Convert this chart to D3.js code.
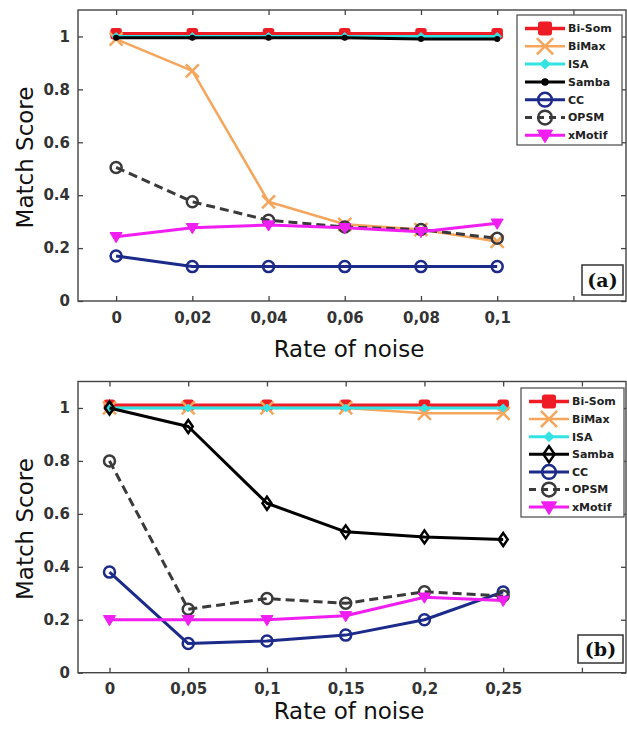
<!DOCTYPE html>
<html>
<head>
<meta charset="utf-8">
<script src="https://cdn.jsdelivr.net/npm/d3@7"></script>
<style>
  body { margin: 0; background: #fff; }
  svg { display: block; }
</style>
</head>
<body>
<div id="chart"></div>
<script>
// ---- data ----
var seriesNames = ["Bi-Som", "BiMax", "ISA", "Samba", "CC", "OPSM", "xMotif"];

var noiseA = [0, 0.02, 0.04, 0.06, 0.08, 0.1];
var noiseTicksA = [0, 0.02, 0.04, 0.06, 0.08, 0.1, 0.12];
var noiseLabelsA = ["0", "0,02", "0,04", "0,06", "0,08", "0,1"];
var biSomA  = [1.01, 1.01, 1.01, 1.01, 1.01, 1.01];
var biMaxA  = [0.99, 0.87, 0.375, 0.29, 0.27, 0.225];
var isaA    = [1.0, 1.0, 1.0, 1.0, 1.0, 1.0];
var sambaA  = [0.995, 0.995, 0.995, 0.995, 0.99, 0.99];
var ccA     = [0.17, 0.13, 0.13, 0.13, 0.13, 0.13];
var opsmA   = [0.505, 0.375, 0.305, 0.28, 0.27, 0.237];
var xMotifA = [0.243, 0.277, 0.287, 0.277, 0.262, 0.294];

var noiseB = [0, 0.05, 0.1, 0.15, 0.2, 0.25];
var noiseTicksB = [0, 0.05, 0.1, 0.15, 0.2, 0.25, 0.3];
var noiseLabelsB = ["0", "0,05", "0,1", "0,15", "0,2", "0,25"];
var biSomB  = [1.01, 1.01, 1.01, 1.01, 1.01, 1.01];
var biMaxB  = [1.0, 1.0, 1.0, 1.0, 0.98, 0.98];
var isaB    = [1.0, 1.0, 1.0, 1.0, 1.0, 1.0];
var sambaB  = [1.0, 0.93, 0.64, 0.532, 0.513, 0.503];
var ccB     = [0.38, 0.11, 0.12, 0.142, 0.2, 0.305];
var opsmB   = [0.8, 0.24, 0.28, 0.262, 0.306, 0.29];
var xMotifB = [0.2, 0.2, 0.2, 0.215, 0.285, 0.273];

var scoreTicks = [0, 0.2, 0.4, 0.6, 0.8, 1];
var scoreLabels = ["0", "0.2", "0.4", "0.6", "0.8", "1"];

// ---- styles ----
var styles = {
    "Bi-Som": {color: "#ee1c24", width: 3.5, marker: "square"},
    "BiMax":  {color: "#f5a55c", width: 2.5, marker: "x"},
    "ISA":    {color: "#33e3e3", width: 3, marker: "diamondFill"},
    "Samba":  {color: "#000000", width: 3, marker: "dot"},
    "CC":     {color: "#1c2a8a", width: 3, marker: "circle"},
    "OPSM":   {color: "#3a3a3a", width: 3, marker: "circle", dash: "9,5"},
    "xMotif": {color: "#f01ef0", width: 3, marker: "triDown"}
};

var svg = d3.select('#chart').append('svg')
    .attr('width', 627)
    .attr('height', 730);

function drawMarker(g, type, color, x, y, big) {
    var k = big ? 1.25 : 1;
    if (type == "square") {
        var s = 5 * k;
        g.append('rect').attr('x', x - s).attr('y', y - s)
            .attr('width', 2 * s).attr('height', 2 * s)
            .attr('rx', 2)
            .attr('fill', color).attr('stroke', color).attr('stroke-width', 1.5);
    } else if (type == "x") {
        var s = 6.5 * k;
        g.append('path')
            .attr('d', 'M' + (x - s) + ',' + (y - s) + 'L' + (x + s) + ',' + (y + s) +
                       'M' + (x - s) + ',' + (y + s) + 'L' + (x + s) + ',' + (y - s))
            .attr('stroke', color).attr('stroke-width', 2.5).attr('fill', 'none');
    } else if (type == "diamondFill") {
        var s = 4 * k;
        g.append('path')
            .attr('d', 'M' + x + ',' + (y - s) + 'L' + (x + s) + ',' + y +
                       'L' + x + ',' + (y + s) + 'L' + (x - s) + ',' + y + 'Z')
            .attr('fill', color).attr('stroke', color).attr('stroke-width', 1);
    } else if (type == "dot") {
        g.append('circle').attr('cx', x).attr('cy', y).attr('r', 3 * k)
            .attr('fill', color);
    } else if (type == "diamondOpen") {
        var w = 4.5 * k, h = 6.5 * k;
        g.append('path')
            .attr('d', 'M' + x + ',' + (y - h) + 'L' + (x + w) + ',' + y +
                       'L' + x + ',' + (y + h) + 'L' + (x - w) + ',' + y + 'Z')
            .attr('fill', 'none').attr('stroke', color).attr('stroke-width', 2.5);
    } else if (type == "circle") {
        g.append('circle').attr('cx', x).attr('cy', y).attr('r', 5.5 * k)
            .attr('fill', 'none').attr('stroke', color).attr('stroke-width', 2.5);
    } else if (type == "triDown") {
        var s = 6 * k;
        g.append('path')
            .attr('d', 'M' + (x - s) + ',' + (y - s * 0.7) + 'L' + (x + s) + ',' + (y - s * 0.7) +
                       'L' + x + ',' + (y + s) + 'Z')
            .attr('fill', color).attr('stroke', color).attr('stroke-width', 1);
    }
}

function drawPanel(p) {
    var g = svg.append('g');
    var xScale = d3.scaleLinear().domain(p.xDomain).range([p.left, p.right]);
    var yScale = d3.scaleLinear().domain([0, 1.1]).range([p.bottom, p.top]);

    // axes, MATLAB style: ticks pointing inward on all four sides
    var ax = g.append('g').attr('transform', 'translate(0,' + p.bottom + ')')
        .call(d3.axisBottom(xScale).tickValues(p.xTicks).tickSize(-5).tickPadding(11)
            .tickFormat(function(d, i) { return p.xLabels[i] || ""; }));
    g.append('g').attr('transform', 'translate(0,' + p.top + ')')
        .call(d3.axisTop(xScale).tickValues(p.xTicks).tickSize(-5).tickFormat(""));
    var ay = g.append('g').attr('transform', 'translate(' + p.left + ',0)')
        .call(d3.axisLeft(yScale).tickValues(scoreTicks).tickSize(-5).tickPadding(8)
            .tickFormat(function(d, i) { return scoreLabels[i]; }));
    g.append('g').attr('transform', 'translate(' + p.right + ',0)')
        .call(d3.axisRight(yScale).tickValues(scoreTicks).tickSize(-5).tickFormat(""));
    g.selectAll('.domain').remove();
    g.selectAll('.tick line').attr('stroke', '#444').attr('stroke-width', 1.3);
    g.selectAll('.tick text')
        .style('font-family', '"DejaVu Sans", sans-serif')
        .style('font-weight', 'bold')
        .style('font-size', '15px')
        .attr('fill', '#333');

    g.append('rect')
        .attr('x', p.left).attr('y', p.top)
        .attr('width', p.right - p.left).attr('height', p.bottom - p.top)
        .attr('fill', 'none').attr('stroke', '#444').attr('stroke-width', 1.4);

    // series
    var line = d3.line()
        .x(function(d) { return xScale(d.x); })
        .y(function(d) { return yScale(d.y); });
    seriesNames.forEach(function(name, si) {
        var st = styles[name];
        var marker = (name == "Samba") ? p.sambaMarker : st.marker;
        var pts = p.noise.map(function(x, i) { return {x: x, y: p.values[si][i]}; });
        var sg = g.append('g');
        sg.append('path')
            .attr('d', line(pts))
            .attr('fill', 'none')
            .attr('stroke', st.color)
            .attr('stroke-width', st.width)
            .attr('stroke-dasharray', st.dash || null)
            .attr('stroke-linejoin', 'round');
        pts.forEach(function(d) {
            drawMarker(sg, marker, st.color, xScale(d.x), yScale(d.y), false);
        });
    });

    // titles
    g.append('text')
        .attr('transform', 'translate(33,' + ((p.top + p.bottom) / 2 + 2) + ') rotate(-90)')
        .attr('text-anchor', 'middle')
        .style('font-family', '"DejaVu Sans", sans-serif')
        .style('font-size', '23px')
        .attr('fill', '#111')
        .text('Match Score');
    g.append('text')
        .attr('x', (p.left + p.right) / 2 - 3)
        .attr('y', p.titleY)
        .attr('text-anchor', 'middle')
        .style('font-family', '"DejaVu Sans", sans-serif')
        .style('font-size', '23px')
        .attr('fill', '#111')
        .text('Rate of noise');

    // legend
    var lg = g.append('g');
    lg.append('rect')
        .attr('x', p.legend.x).attr('y', p.legend.y)
        .attr('width', p.legend.w).attr('height', p.legend.h)
        .attr('fill', '#fff').attr('stroke', '#555').attr('stroke-width', 1.3);
    seriesNames.forEach(function(name, i) {
        var st = styles[name];
        var marker = (name == "Samba") ? p.sambaMarker : st.marker;
        var y = p.legend.y + 13.5 + i * p.legend.step;
        var x1 = p.legend.x + 8, x2 = p.legend.x + 48;
        lg.append('line')
            .attr('x1', x1).attr('x2', x2).attr('y1', y).attr('y2', y)
            .attr('stroke', st.color).attr('stroke-width', st.width)
            .attr('stroke-dasharray', st.dash ? "7,5" : null);
        drawMarker(lg, marker, st.color, (x1 + x2) / 2, y, true);
        lg.append('text')
            .attr('x', x2 + 3).attr('y', y)
            .attr('dy', '0.35em')
            .style('font-family', '"DejaVu Sans", sans-serif')
            .style('font-weight', 'bold')
            .style('font-size', '11px')
            .attr('fill', '#222')
            .text(name);
    });

    // panel tag
    g.append('rect')
        .attr('x', p.tag.x).attr('y', p.tag.y)
        .attr('width', p.tag.w).attr('height', p.tag.h)
        .attr('fill', '#fff').attr('stroke', '#333').attr('stroke-width', 1.5);
    g.append('text')
        .attr('x', p.tag.x + p.tag.w / 2).attr('y', p.tag.y + p.tag.h / 2)
        .attr('dy', '0.35em')
        .attr('text-anchor', 'middle')
        .style('font-family', '"DejaVu Serif", "Liberation Serif", serif')
        .style('font-weight', 'bold')
        .style('font-size', '19px')
        .attr('fill', '#111')
        .text(p.tag.text);
}

drawPanel({
    left: 78, right: 626, top: 10, bottom: 301,
    xDomain: [-0.01, 0.1338],
    xTicks: noiseTicksA, xLabels: noiseLabelsA,
    noise: noiseA,
    values: [biSomA, biMaxA, isaA, sambaA, ccA, opsmA, xMotifA],
    sambaMarker: "dot",
    titleY: 357,
    legend: {x: 517, y: 15, w: 105, h: 130, step: 17.8},
    tag: {x: 582, y: 265, w: 41, h: 30, text: "(a)"}
});

drawPanel({
    left: 78, right: 626, top: 381.5, bottom: 672.7,
    xDomain: [-0.02, 0.328],
    xTicks: noiseTicksB, xLabels: noiseLabelsB,
    noise: noiseB,
    values: [biSomB, biMaxB, isaB, sambaB, ccB, opsmB, xMotifB],
    sambaMarker: "diamondOpen",
    titleY: 719,
    legend: {x: 521, y: 388, w: 103, h: 129, step: 17.6},
    tag: {x: 578, y: 635, w: 45, h: 28, text: "(b)"}
});
</script>
</body>
</html>
